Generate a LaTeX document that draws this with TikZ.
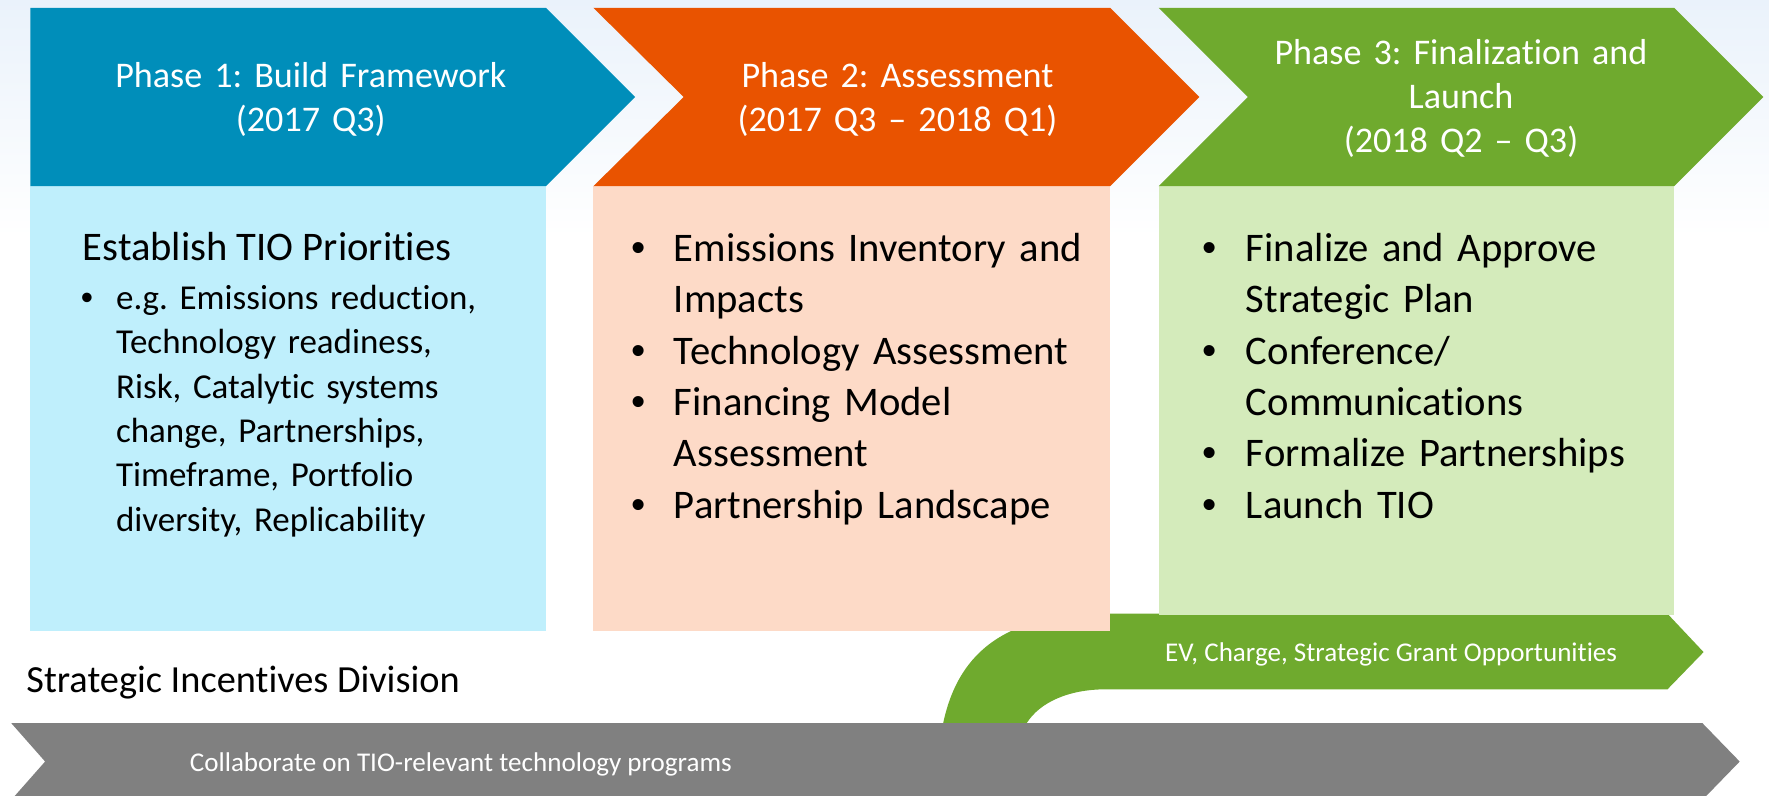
\documentclass[tikz,border=0pt]{standalone}
\usepackage{fontspec}
\setmainfont{Carlito}[Ligatures={TeX,NoCommon}]
\newfontfamily\bulfont{Liberation Sans}
\definecolor{bgblue}{HTML}{EAF2FB}
\definecolor{pblue}{HTML}{008EBA}
\definecolor{lblue}{HTML}{BFEFFC}
\definecolor{porange}{HTML}{E95300}
\definecolor{lorange}{HTML}{FDDAC7}
\definecolor{pgreen}{HTML}{6FAA2E}
\definecolor{lgreen}{HTML}{D4EBBB}
\definecolor{pgray}{HTML}{808080}
\frenchspacing
\tikzset{
  phasetitle/.style={text=white, font=\frenchspacing\fontsize{16}{19.5}\selectfont, align=center, text width=240pt, anchor=base, inner sep=0pt},
  heading/.style={text=black, font=\frenchspacing\fontsize{18}{22}\selectfont, anchor=base west, inner sep=0pt},
  smallbody/.style={text=black, font=\frenchspacing\fontsize{15.5}{19.7}\selectfont, anchor=base west, inner sep=0pt, align=left, text width=200pt},
  smallbul/.style={text=black, font=\bulfont\fontsize{15.5}{19.7}\selectfont, anchor=base, inner sep=0pt},
  body/.style={text=black, font=\frenchspacing\fontsize{18}{22.8}\selectfont, anchor=base west, inner sep=0pt, align=left, text width=210pt},
  bul/.style={text=black, font=\bulfont\fontsize{18}{22.8}\selectfont, anchor=base, inner sep=0pt},
  bandtext/.style={text=white, font=\frenchspacing\fontsize{12}{14}\selectfont, anchor=base, inner sep=0pt},
  divtext/.style={text=black, font=\frenchspacing\fontsize{17}{20}\selectfont, anchor=base west, inner sep=0pt},
}
\begin{document}
\begin{tikzpicture}[x=0.5pt,y=-0.5pt]
\useasboundingbox (0,0) rectangle (1568,705);
\clip (0,0) rectangle (1568,705);
% background
\fill[white] (0,0) rectangle (1568,705);
\shade[top color=bgblue, bottom color=white] (0,0) rectangle (1568,210);
% green curved arrow
\fill[pgreen] (836,641) .. controls (850,575) and (895,544) .. (980,544)
  -- (1478,544) -- (1510,578) -- (1478,611) -- (980,611)
  .. controls (948,611) and (922,622) .. (910,641) -- cycle;
% light content boxes
\fill[lblue] (27,165) rectangle (484,559);
\fill[lorange] (526,165) rectangle (984,559);
\fill[lgreen] (1027,165) rectangle (1484,545);
% phase chevrons
\fill[pblue] (27,7) -- (484,7) -- (563,86) -- (484,165) -- (27,165) -- cycle;
\fill[porange] (526,7) -- (984,7) -- (1063,86) -- (984,165) -- (526,165) -- (606,86) -- cycle;
\fill[pgreen] (1027,7) -- (1484,7) -- (1563,86) -- (1484,165) -- (1027,165) -- (1106,86) -- cycle;
% gray arrow
\fill[pgray] (10,641) -- (1509,641) -- (1542,675) -- (1509,709) -- (10,709) -- (40,675) -- cycle;
% titles
\node[phasetitle] (t1) at (275.5,78) {Phase 1: Build Framework\\(2017 Q3)};
\node[phasetitle] (t2) at (795.5,78) {Phase 2: Assessment\\(2017 Q3 – 2018 Q1)};
\node[phasetitle] (t3) at (1295,57.5) {Phase 3: Finalization and\\Launch\\(2018 Q2 – Q3)};
% phase 1 body
\node[heading] (h1) at (73,231) {Establish TIO Priorities};
\node[smallbul] (p1b1) at (77,274) {•};
\node[smallbody] (p1i1) at (102.5,274) {e.g. Emissions reduction,\\Technology readiness,\\Risk, Catalytic systems\\change, Partnerships,\\Timeframe, Portfolio\\diversity, Replicability};
% phase 2 body
\node[bul] (p2b1) at (566,231.5) {•};
\node[body] (p2i1) at (597,231.5) {Emissions Inventory and\\Impacts};
\node[bul] (p2b2) at (566,322.7) {•};
\node[body] (p2i2) at (597,322.7) {Technology Assessment};
\node[bul] (p2b3) at (566,368.3) {•};
\node[body] (p2i3) at (597,368.3) {Financing Model\\Assessment};
\node[bul] (p2b4) at (566,459.5) {•};
\node[body] (p2i4) at (597,459.5) {Partnership Landscape};
% phase 3 body
\node[bul] (p3b1) at (1072,231.5) {•};
\node[body] (p3i1) at (1104,231.5) {Finalize and Approve\\Strategic Plan};
\node[bul] (p3b2) at (1072,322.7) {•};
\node[body] (p3i2) at (1104,322.7) {Conference/\\Communications};
\node[bul] (p3b3) at (1072,413.9) {•};
\node[body] (p3i3) at (1104,413.9) {Formalize Partnerships};
\node[bul] (p3b4) at (1072,459.5) {•};
\node[body] (p3i4) at (1104,459.5) {Launch TIO};
% bottom texts
\node[bandtext] (ev) at (1233,586) {EV, Charge, Strategic Grant Opportunities};
\node[divtext] (sid) at (23,614) {Strategic Incentives Division};
\node[bandtext] (collab) at (408.5,684) {Collaborate on TIO-relevant technology programs};
\end{tikzpicture}
\end{document}
